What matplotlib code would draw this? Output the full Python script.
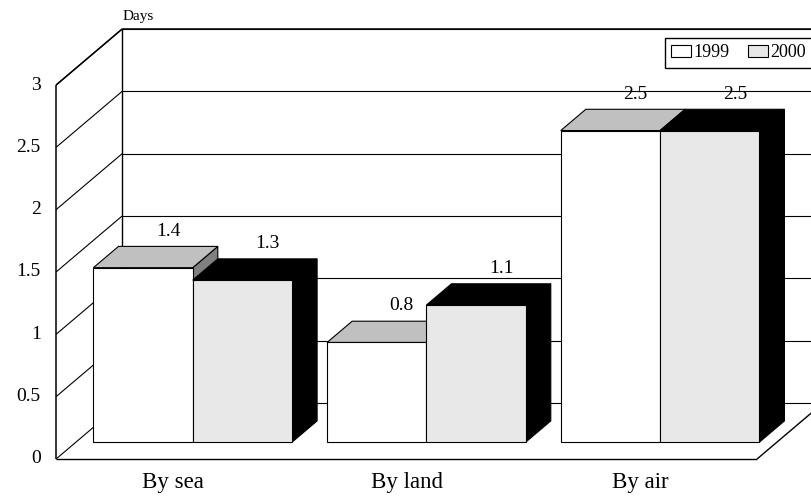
import matplotlib
matplotlib.use('Agg')
import matplotlib.pyplot as plt
from matplotlib.patches import Polygon, Patch
import numpy as np

categories = ['By sea', 'By land', 'By air']
days_1999 = [1.4, 0.8, 2.5]
days_2000 = [1.3, 1.1, 2.5]
years = ['1999', '2000']
y_ticks = [0, 0.5, 1, 1.5, 2, 2.5, 3]

plt.rcParams['font.family'] = ['Liberation Serif', 'DejaVu Serif']

# oblique projection: depth runs up and to the right
DX = 0.2825   # category units per full depth
DY = 0.449    # value units per full depth
BAR_W = 0.425
D0, D1 = 0.30, 0.68   # bar front / back depth
EDGE = dict(edgecolor='black', linewidth=0.8)


def proj(x, v, d):
    return x + d * DX, v + d * DY


def line3(ax, p, q, **kw):
    a, b = proj(*p), proj(*q)
    ax.plot([a[0], b[0]], [a[1], b[1]], color='black', solid_capstyle='butt', **kw)


def bar3(ax, x0, x1, v, front, top, side):
    faces = [
        ([(x1, 0, D0), (x1, v, D0), (x1, v, D1), (x1, 0, D1)], side),
        ([(x0, v, D0), (x1, v, D0), (x1, v, D1), (x0, v, D1)], top),
        ([(x0, 0, D0), (x1, 0, D0), (x1, v, D0), (x0, v, D0)], front),
    ]
    for pts, col in faces:
        ax.add_patch(Polygon([proj(*p) for p in pts], closed=True,
                             facecolor=col, zorder=3, **EDGE))


fig = plt.figure(figsize=(8.12, 4.96), dpi=100)
ax = fig.add_axes([0, 0, 1, 1])
ax.set_xlim(-0.74, 2.735)
ax.set_ylim(-0.297, 3.682)
ax.axis('off')

n = len(categories)
left, right = -0.5, n - 0.5
ymax = y_ticks[-1]

# walls and floor
for v in y_ticks:
    line3(ax, (left, v, 0), (left, v, 1), lw=0.8, zorder=1)
    line3(ax, (left, v, 1), (right, v, 1), lw=0.8, zorder=1)
line3(ax, (left, ymax, 0), (left, ymax, 1), lw=1.1, zorder=1)
line3(ax, (left, ymax, 1), (right, ymax, 1), lw=1.1, zorder=1)
line3(ax, (left, 0, 0), (left, ymax, 0), lw=1.1, zorder=1)
line3(ax, (left, 0, 1), (left, ymax, 1), lw=1.0, zorder=1)
line3(ax, (left, 0, 0), (right, 0, 0), lw=1.0, zorder=1)
line3(ax, (right, 0, 0), (right, 0, 1), lw=1.0, zorder=1)

for v in y_ticks:
    ax.annotate(f'{v:g}', xy=proj(left, v, 0), xytext=(-11, 0),
                textcoords='offset points', ha='right', va='center', fontsize=14)

for i, name in enumerate(categories):
    ax.text(i, -0.19, name, ha='center', va='center', fontsize=16.5)

# bars
for i in range(n):
    bar3(ax, i - BAR_W, i, days_1999[i], 'white', '#c0c0c0', '#808080')
    bar3(ax, i, i + BAR_W, days_2000[i], '#e8e8e8', 'black', 'black')
    for x0, v in [(i - BAR_W, days_1999[i]), (i, days_2000[i])]:
        ax.annotate(f'{v:g}', xy=proj(x0 + BAR_W / 2, v, D1), xytext=(0, 11),
                    textcoords='offset points', ha='center', va='center',
                    fontsize=14, zorder=5)

ax.annotate('Days', xy=proj(left, ymax, 1), xytext=(0, 4),
            textcoords='offset points', ha='left', va='bottom', fontsize=11)

handles = [Patch(facecolor='white', edgecolor='black', linewidth=0.8),
           Patch(facecolor='#e8e8e8', edgecolor='black', linewidth=0.8)]
leg = ax.legend(handles, years, ncol=2, loc='upper left',
                bbox_to_anchor=(665 / 812, 1 - 38 / 496), bbox_transform=fig.transFigure,
                frameon=True, fancybox=False, framealpha=1, edgecolor='black',
                fontsize=13, handlelength=1.1, handleheight=0.6, handletextpad=0.15,
                columnspacing=1.0, borderpad=0.35, borderaxespad=0)
leg.get_frame().set_linewidth(1.0)

fig.savefig('out.png', dpi=100)
